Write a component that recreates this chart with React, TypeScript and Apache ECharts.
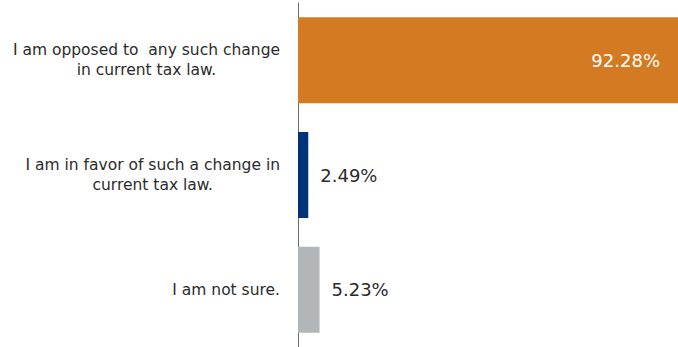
import React, { useEffect, useRef } from "react";
import * as echarts from "echarts";

const categories = [
  "I am opposed to  any such change\nin current tax law.",
  "I am in favor of such a change in\ncurrent tax law.",
  "I am not sure.",
];
const values = [92.28, 2.49, 5.23];
const colors = ["#D47A22", "#00337A", "#B3B6B9"];

export default function App() {
  const ref = useRef<HTMLDivElement>(null);
  useEffect(() => {
    const chart = echarts.init(ref.current!, null, { renderer: "svg" });
    chart.setOption({
      animation: false,
      grid: { left: 298, right: 0, top: 3, bottom: 0, containLabel: false },
      xAxis: {
        type: "value",
        min: 0,
        max: 92.28,
        show: false,
      },
      yAxis: {
        type: "category",
        inverse: true,
        data: categories,
        axisLine: { show: true, lineStyle: { color: "#6b6b6b", width: 1 } },
        axisTick: { show: false },
        axisLabel: {
          margin: 18,
          fontFamily: "DejaVu Sans",
          fontSize: 15.5,
          color: "#2b2b2b",
          lineHeight: 20,
          formatter: (v: string) =>
            v
              .split("\n")
              .map((l) => "{c|" + l + "}")
              .join("\n"),
          rich: {
            c: {
              align: "center",
              fontFamily: "DejaVu Sans",
              fontSize: 15.5,
              color: "#2b2b2b",
              lineHeight: 20,
            },
          },
        },
      },
      series: [
        {
          type: "bar",
          barCategoryGap: "25%",
          data: values.map((v, i) => ({
            value: v,
            itemStyle: { color: colors[i] },
            label:
              i === 0
                ? {
                    show: true,
                    position: "insideRight",
                    distance: 18,
                    color: "#ffffff",
                  }
                : { show: true, position: "right", distance: 12, color: "#2b2b2b" },
          })),
          label: {
            show: true,
            fontFamily: "DejaVu Sans",
            fontSize: 18,
            formatter: (p: any) => p.value.toFixed(2) + "%",
          },
        },
      ],
    });
    return () => chart.dispose();
  }, []);
  return (
    <div
      ref={ref}
      style={{ position: "fixed", left: 0, top: 0, width: 678, height: 347, background: "#fff" }}
    />
  );
}
